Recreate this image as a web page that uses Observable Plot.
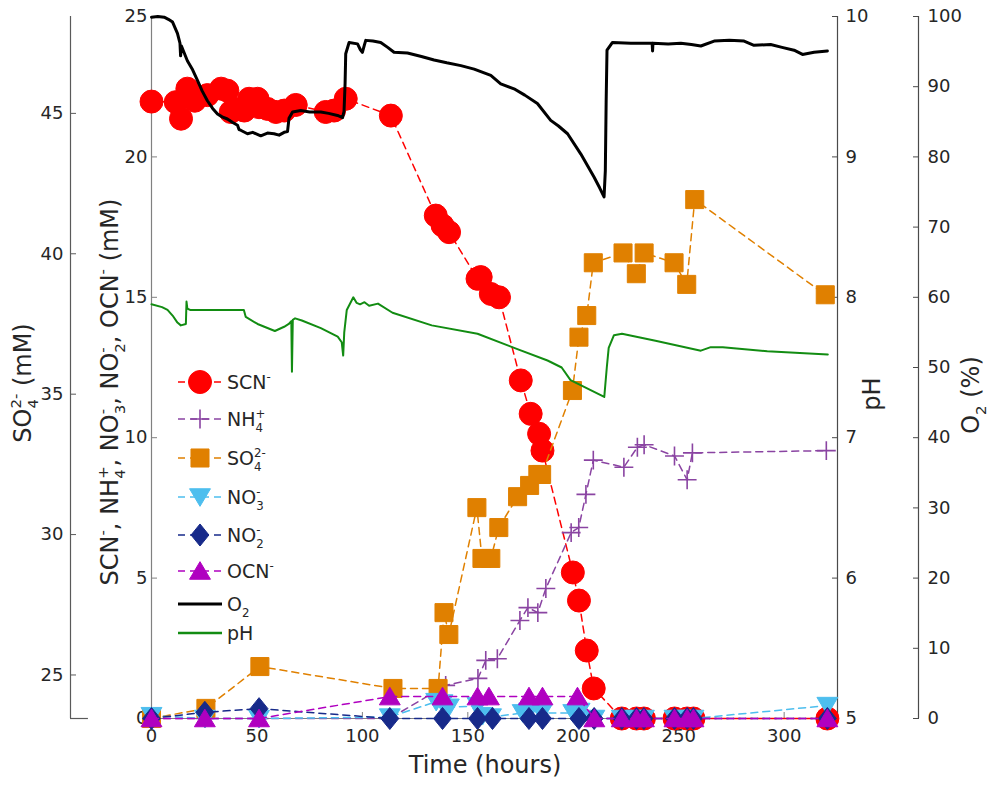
<!DOCTYPE html>
<html>
<head>
<meta charset="utf-8">
<script src="https://cdn.jsdelivr.net/npm/d3@7"></script>
<script src="https://cdn.jsdelivr.net/npm/@observablehq/plot@0.6"></script>
<style>
  body { margin: 0; background: #fff; }
  #chart { position: relative; width: 990px; height: 787px; }
  text { white-space: pre; }
</style>
</head>
<body>
<div id="chart"></div>
<script>
// ---------------- DATA ----------------
// Time (hours) and concentrations (mM) of the sampled species
const scnTime = [0, 11.5, 14, 17, 20.5, 26.5, 33, 36, 37.6, 40, 44, 46.3, 50.3, 51, 55, 59, 63, 68.4, 82.6, 86.6, 92.1, 113.5, 134.8, 138, 141.1, 154.6, 156.1, 160.9, 164.8, 175.1, 179.8, 183.8, 185.4, 199.8, 202.7, 206.4, 209.7, 223, 230, 233.5, 248, 254, 257, 320.5];
const scnConc = [21.97, 21.95, 21.36, 22.43, 22.0, 22.2, 22.43, 22.36, 21.6, 21.7, 21.65, 22.07, 22.07, 21.77, 21.71, 21.6, 21.65, 21.85, 21.6, 21.65, 22.07, 21.47, 17.91, 17.56, 17.32, 15.66, 15.72, 15.12, 15.0, 12.04, 10.85, 10.14, 9.54, 5.2, 4.2, 2.42, 1.07, 0, 0, 0, 0, 0, 0, 0];

const nh4Time = [0, 25.3, 51, 113, 139.5, 154.8, 158.5, 164, 174.7, 178.5, 183.2, 187, 199, 202.6, 206, 209.5, 224, 230.4, 233.6, 248, 254, 256.5, 320];
const nh4Conc = [0, 0, 0, 0, 1.18, 1.43, 2.07, 2.13, 3.49, 3.95, 3.77, 4.63, 6.62, 6.8, 7.98, 9.2, 8.95, 9.66, 9.75, 9.35, 8.5, 9.46, 9.54];

const so4Time = [0, 25.8, 51.4, 114.5, 135.9, 138.7, 141, 154.3, 156.7, 160.9, 164.7, 173.6, 179.3, 183.2, 185, 199.6, 202.7, 206.4, 209.5, 223.6, 229.9, 233.6, 247.8, 253.8, 257.6, 319.5];
const so4Conc = [23.45, 23.81, 25.3, 24.52, 24.52, 27.22, 26.44, 30.96, 29.15, 29.15, 30.25, 31.35, 31.75, 32.14, 32.14, 35.13, 37.03, 37.8, 39.68, 40.03, 39.29, 40.03, 39.68, 38.91, 41.93, 38.54];

const no3Time = [0, 25.3, 51, 113, 135, 138, 141, 154.6, 157, 161, 176, 179, 185, 200, 203, 210, 223, 230, 233.5, 248, 254, 257, 320.5];
const no3Conc = [0.1, 0, 0, 0.05, 0.6, 0.55, 0.4, 0.45, 0.1, 0.05, 0.2, 0.25, 0.2, 0.2, 0.25, 0, 0, 0, 0, 0, 0, 0, 0.46];

const no2Time = [0, 25.3, 51, 113, 138, 154.6, 161.7, 179, 185.4, 202.7, 209.9, 223, 230, 233.5, 248, 254, 257, 320.5];
const no2Conc = [0, 0.22, 0.35, 0, 0, 0, 0, 0, 0, 0, 0, 0, 0, 0, 0, 0, 0, 0];

const ocnTime = [0, 25.3, 51, 113, 138, 154.6, 160, 179, 185.4, 202, 210, 223, 230, 233.5, 248, 254, 257, 320.5];
const ocnConc = [0, 0, 0, 0.78, 0.78, 0.78, 0.78, 0.78, 0.78, 0.78, 0, 0, 0, 0, 0, 0, 0, 0];

// Dissolved O2 (%) trace
const o2Time = [0, 3, 6, 8, 10, 12.3, 13.5, 13.8, 14.2, 15, 17, 19.5, 21.8, 24, 26.5, 29, 31.3, 33.5, 36, 38.5, 40.8, 41.5, 42.3, 45.5, 48, 51.8, 55, 58.1, 60.5, 62.9, 64.5, 65.2, 66.9, 70.8, 75, 80.3, 84, 88.2, 90.6, 91.3, 91.8, 92.1, 93.7, 97.7, 99, 100, 101, 101.6, 105, 108.7, 112, 115, 121.4, 128, 134, 140, 146.7, 153, 160.9, 165.6, 171.9, 177, 183, 189.3, 193, 197.3, 203.6, 209.9, 212.5, 214.6, 215.2, 215.6, 216, 218.6, 227.3, 237.4, 237.6, 237.8, 245, 251, 256, 260.5, 266.8, 274, 281, 285.7, 293.6, 299, 304.7, 308.7, 314.2, 320.5];
const o2Pct = [99.9, 100, 99.9, 99.6, 99.2, 97.6, 96.2, 94.4, 95.8, 95.2, 93.7, 92.4, 90.9, 89.4, 88.0, 86.9, 86.1, 85.7, 85.4, 84.9, 84.5, 83.9, 83.8, 83.3, 83.5, 83.0, 83.4, 83.3, 83.1, 83.5, 83.6, 85.5, 86.4, 86.6, 86.4, 86.4, 86.2, 85.9, 85.6, 86.5, 90.5, 94.7, 96.3, 96.1, 95.3, 94.9, 96.0, 96.6, 96.5, 96.3, 95.6, 94.9, 94.8, 94.3, 93.8, 93.4, 93.0, 92.5, 91.6, 90.4, 89.7, 88.8, 87.6, 85.2, 84.4, 83.3, 80.4, 77.1, 75.6, 74.3, 78, 88, 95.2, 96.3, 96.2, 96.2, 95.1, 96.2, 96.1, 96.2, 96.0, 95.8, 96.5, 96.6, 96.5, 95.9, 96.0, 95.6, 95.2, 94.6, 94.9, 95.1];

// pH trace
const phTime = [0, 5, 7.6, 10, 12.3, 13.9, 16.3, 16.6, 17, 18.3, 30, 43.8, 44.7, 50.3, 58.5, 62.9, 65.1, 66.3, 66.6, 67, 68.1, 71.3, 80.3, 88.3, 90.2, 90.9, 91.4, 92.6, 95.7, 97.3, 98.9, 101, 103.2, 107.4, 114.3, 132.9, 154.6, 173.2, 187.8, 194.5, 198.7, 213.5, 214.7, 215.9, 216.8, 219.3, 223.1, 239, 260.5, 265.2, 270.9, 292, 320.7];
const phVal = [7.95, 7.93, 7.91, 7.87, 7.82, 7.80, 7.81, 7.97, 7.92, 7.91, 7.91, 7.91, 7.86, 7.81, 7.76, 7.79, 7.81, 7.83, 7.47, 7.84, 7.85, 7.835, 7.78, 7.72, 7.68, 7.585, 7.75, 7.91, 8.0, 7.96, 7.95, 7.965, 7.94, 7.955, 7.89, 7.80, 7.74, 7.633, 7.55, 7.50, 7.41, 7.30, 7.29, 7.5, 7.64, 7.73, 7.74, 7.69, 7.62, 7.645, 7.645, 7.616, 7.593];

// Tick values for each axis
const timeTicks = [0, 50, 100, 150, 200, 250, 300];
const mainTicks = [0, 5, 10, 15, 20, 25];
const so4Ticks = [25, 30, 35, 40, 45];
const phTicks = [5, 6, 7, 8, 9, 10];
const o2Ticks = [0, 10, 20, 30, 40, 50, 60, 70, 80, 90, 100];

// ---------------- AXIS RELATIONS ----------------
const X_MAX = 325.3;          // right edge of time axis
const SO4_OFFSET = 23.45;     // SO4 axis = main axis + offset
const phToMain = p => (p - 5) * 5;
const o2ToMain = o => o / 4;

const zip = (t, v) => t.map((tt, i) => ({t: tt, v: v[i]}));
const scn = zip(scnTime, scnConc);
const nh4 = zip(nh4Time, nh4Conc);
const so4 = zip(so4Time, so4Conc);
const no3 = zip(no3Time, no3Conc);
const no2 = zip(no2Time, no2Conc);
const ocn = zip(ocnTime, ocnConc);
const o2 = zip(o2Time, o2Pct);
const ph = zip(phTime, phVal);

// ---------------- STYLE ----------------
const C = {
  scn: "#ff0000", nh4: "#8a44a2", so4: "#e08000", no3: "#4dbeee",
  no2: "#172a8a", ocn: "#b000c0", o2: "#000000", ph: "#128c12"
};
const rOf = size => Math.sqrt(size / Math.PI);
const SYM = {
  circle: d3.symbolCircle,
  square: { draw(c, s) { const h = rOf(s) * 0.82; c.moveTo(-h, -h); c.lineTo(h, -h); c.lineTo(h, h); c.lineTo(-h, h); c.closePath(); } },
  triUp: { draw(c, s) { const r = rOf(s); c.moveTo(0, -0.85 * r); c.lineTo(0.95 * r, 0.75 * r); c.lineTo(-0.95 * r, 0.75 * r); c.closePath(); } },
  triDown: { draw(c, s) { const r = rOf(s); c.moveTo(0, 0.85 * r); c.lineTo(0.95 * r, -0.75 * r); c.lineTo(-0.95 * r, -0.75 * r); c.closePath(); } },
  diamond: { draw(c, s) { const r = rOf(s); c.moveTo(0, -1.05 * r); c.lineTo(0.85 * r, 0); c.lineTo(0, 1.05 * r); c.lineTo(-0.85 * r, 0); c.closePath(); } },
  plus: { draw(c, s) { const r = rOf(s) * 0.9; c.moveTo(-r, 0); c.lineTo(r, 0); c.moveTo(0, -r); c.lineTo(0, r); } }
};
const DASH = "7,5";
const R = {scn: 11.5, nh4: 10.5, so4: 11, no3: 11, no2: 10.5, ocn: 11};

function series(data, yf, color, symbol, r, hollow) {
  return [
    Plot.line(data, {x: "t", y: yf, stroke: color, strokeWidth: 1.5, strokeDasharray: DASH}),
    Plot.dot(data, {x: "t", y: yf, symbol, r,
      fill: hollow ? "none" : color, stroke: color, strokeWidth: hollow ? 1.6 : 1})
  ];
}

const axisStyle = {fontSize: 18, fill: "#262626", label: null};

const plot = Plot.plot({
  width: 990, height: 787,
  marginLeft: 151, marginRight: 153, marginTop: 16, marginBottom: 69,
  x: {domain: [0, X_MAX]},
  y: {domain: [0, 25]},
  style: {fontFamily: "DejaVu Sans, sans-serif", fontSize: "18px", color: "#262626", background: "#fff", overflow: "visible"},
  marks: [
    // axis lines
    Plot.ruleY([0], {stroke: "#808080", strokeWidth: 1.2}),
    Plot.ruleX([0], {stroke: "#808080", strokeWidth: 1.2}),
    Plot.ruleX([X_MAX], {stroke: "#4a4a4a", strokeWidth: 1.2}),
    Plot.ruleX([X_MAX], {stroke: "#4a4a4a", strokeWidth: 1.2, dx: 81}),
    Plot.ruleX([0], {stroke: "#5a5a5a", strokeWidth: 1.2, dx: -81}),
    Plot.ruleY([0], {x1: 0, x2: 8.5, dx: -81, stroke: "#5a5a5a", strokeWidth: 1.2}),
    // axes
    Plot.axisX({...axisStyle, anchor: "bottom", ticks: timeTicks, tickSize: -6, tickPadding: 17, stroke: "#808080"}),
    Plot.axisY({...axisStyle, anchor: "left", ticks: mainTicks, tickSize: -6, tickPadding: 10, stroke: "#808080"}),
    Plot.axisY({...axisStyle, anchor: "left", dx: -81, ticks: so4Ticks.map(s => s - SO4_OFFSET),
      tickFormat: d => String(Math.round(d + SO4_OFFSET)), tickSize: -6, tickPadding: 13, stroke: "#5a5a5a"}),
    Plot.axisY({...axisStyle, anchor: "right", ticks: phTicks.map(phToMain),
      tickFormat: d => String(Math.round(d / 5 + 5)), tickSize: -6, tickPadding: 14, stroke: "#4a4a4a"}),
    Plot.axisY({...axisStyle, anchor: "right", dx: 81, ticks: o2Ticks.map(o2ToMain),
      tickFormat: d => String(Math.round(d * 4)), tickSize: -6, tickPadding: 15, stroke: "#4a4a4a"}),
    // data series
    ...series(scn, "v", C.scn, SYM.circle, R.scn, false),
    ...series(nh4, "v", C.nh4, SYM.plus, R.nh4, true),
    ...series(so4, d => d.v - SO4_OFFSET, C.so4, SYM.square, R.so4, false),
    ...series(no3, "v", C.no3, SYM.triDown, R.no3, false),
    ...series(no2, "v", C.no2, SYM.diamond, R.no2, false),
    ...series(ocn, "v", C.ocn, SYM.triUp, R.ocn, false),
    Plot.line(o2, {x: "t", y: d => o2ToMain(d.v), stroke: C.o2, strokeWidth: 3, strokeLinejoin: "round"}),
    Plot.line(ph, {x: "t", y: d => phToMain(d.v), stroke: C.ph, strokeWidth: 2, strokeLinejoin: "round"})
  ]
});

document.getElementById("chart").appendChild(plot);

// ---------------- RICH TEXT (titles & legend) ----------------
const svg = d3.select(plot);
const FONT = "DejaVu Sans, sans-serif";

function rich(textSel, parts, size) {
  const small = size * 0.62;
  let cur = 0, pad = 0;
  const go = target => { const d = target - cur; cur = target; return d; };
  for (const p of parts) {
    if (typeof p === "string") {
      const ts = textSel.append("tspan").attr("font-size", size).attr("dy", go(0)).text(p);
      if (pad) { ts.attr("dx", pad); pad = 0; }
    } else {
      let w = 0;
      if (p.sub) {
        const ts = textSel.append("tspan").attr("font-size", small).attr("dy", go(size * 0.3)).text(p.sub);
        w = ts.node().getComputedTextLength();
      }
      if (p.sup) {
        const ts = textSel.append("tspan").attr("font-size", small).attr("dy", go(-size * 0.42)).text(p.sup);
        if (p.sub) {
          ts.attr("dx", -w);
          const ws = ts.node().getComputedTextLength();
          if (ws < w) pad = w - ws;
        }
      }
    }
  }
  return textSel;
}

const titles = svg.append("g").attr("font-family", FONT).attr("fill", "#262626").attr("text-anchor", "middle");
rich(titles.append("text").attr("transform", "translate(485,773)"), ["Time (hours)"], 24);
rich(titles.append("text").attr("transform", "translate(31,383) rotate(-90)"),
  ["SO", {sub: "4", sup: "2-"}, " (mM)"], 24);
rich(titles.append("text").attr("transform", "translate(118,392) rotate(-90)"),
  ["SCN", {sup: "-"}, ", NH", {sub: "4", sup: "+"}, ", NO", {sub: "3", sup: "-"}, ", NO", {sub: "2", sup: "-"}, ", OCN", {sup: "-"}, " (mM)"], 24);
rich(titles.append("text").attr("transform", "translate(880,394) rotate(-90)"), ["pH"], 24);
rich(titles.append("text").attr("transform", "translate(979,395) rotate(-90)"),
  ["O", {sub: "2"}, " (%)"], 24);

// legend
const legendRows = [
  {parts: ["SCN", {sup: "-"}], color: C.scn, sym: SYM.circle, r: R.scn, hollow: false},
  {parts: ["NH", {sub: "4", sup: "+"}], color: C.nh4, sym: SYM.plus, r: R.nh4, hollow: true},
  {parts: ["SO", {sub: "4", sup: "2-"}], color: C.so4, sym: SYM.square, r: R.so4, hollow: false},
  {parts: ["NO", {sub: "3", sup: "-"}], color: C.no3, sym: SYM.triDown, r: R.no3, hollow: false},
  {parts: ["NO", {sub: "2", sup: "-"}], color: C.no2, sym: SYM.diamond, r: R.no2, hollow: false},
  {parts: ["OCN", {sup: "-"}], color: C.ocn, sym: SYM.triUp, r: R.ocn, hollow: false},
  {parts: ["O", {sub: "2"}], color: C.o2, sym: null, width: 3},
  {parts: ["pH"], color: C.ph, sym: null, width: 2.5}
];
const legendY = [382, 419, 458, 497, 535, 571, 604, 633];
const lg = svg.append("g").attr("font-family", FONT).attr("fill", "#262626").attr("text-anchor", "start");
legendRows.forEach((row, i) => {
  const y = legendY[i];
  const g = lg.append("g").attr("transform", `translate(0,${y})`);
  g.append("line").attr("x1", 178).attr("x2", 222).attr("y1", 0).attr("y2", 0)
    .attr("stroke", row.color).attr("stroke-width", row.sym ? 1.5 : row.width)
    .attr("stroke-dasharray", row.sym ? DASH : null);
  if (row.sym) {
    g.append("path").attr("transform", "translate(200,0)")
      .attr("d", d3.symbol(row.sym, row.r * row.r * Math.PI)())
      .attr("fill", row.hollow ? "none" : row.color)
      .attr("stroke", row.color).attr("stroke-width", row.hollow ? 1.6 : 1);
  }
  rich(g.append("text").attr("x", 227).attr("y", 7).attr("text-anchor", "start"), row.parts, 19);
});
</script>
</body>
</html>
